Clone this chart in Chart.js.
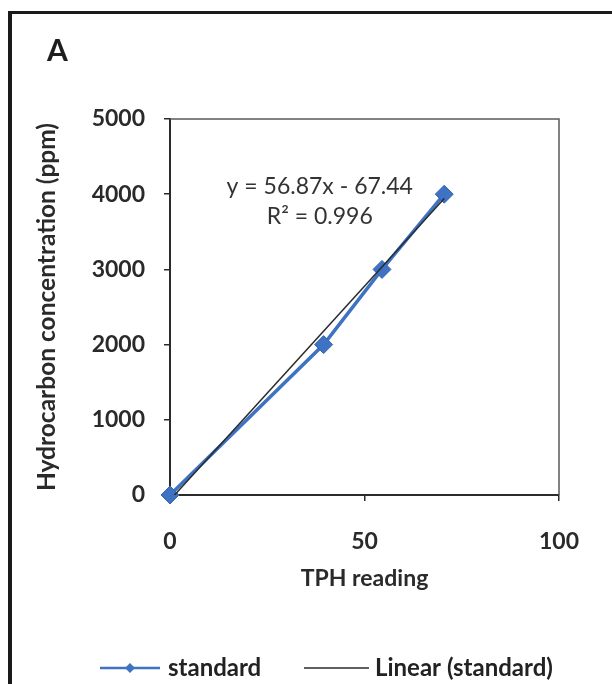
<!DOCTYPE html>
<html>
<head>
<meta charset="utf-8">
<title>TPH calibration</title>
<script src="https://cdn.jsdelivr.net/npm/chart.js@4.4.0/dist/chart.umd.min.js"></script>
<style>
    html, body { margin: 0; padding: 0; background: #fff; }
    #wrap { width: 612px; height: 684px; position: relative; }
</style>
</head>
<body>
<div id="wrap"><canvas id="chart" width="612" height="684"></canvas></div>
<script>
(function() {
    'use strict';

    // Data
    var tphReading = [0, 39.5, 54.5, 70.5];
    var concentration = [0, 2000, 3000, 4000];
    var trendX = [0, 70.5];
    var trendY = [-67, 3942];
    var xTicks = [0, 50, 100];
    var yTicks = [0, 1000, 2000, 3000, 4000, 5000];
    var seriesNames = ['standard', 'Linear (standard)'];
    var equationLines = ['y = 56.87x - 67.44', 'R\u00b2 = 0.996'];
    var panelLabel = 'A';

    var blue = '#3e72c2';
    var dark = '#2b2b2b';
    var fontFamily = 'Lato, "Open Sans", sans-serif';

    function toPoints(xs, ys) {
        return xs.map(function(x, i) { return { x: x, y: ys[i] }; });
    }

    function diamond(ctx, x, y, r) {
        ctx.beginPath();
        ctx.moveTo(x, y - r);
        ctx.lineTo(x + r, y);
        ctx.lineTo(x, y + r);
        ctx.lineTo(x - r, y);
        ctx.closePath();
        ctx.fill();
    }

    // Frame, panel letter, plot box, equation and legend
    var decorations = {
        id: 'decorations',
        beforeDatasetsDraw: function(chart) {
            var ctx = chart.ctx;
            var a = chart.chartArea;
            ctx.save();
            ctx.strokeStyle = '#5a5a5a';
            ctx.lineWidth = 1.5;
            ctx.beginPath();
            ctx.moveTo(a.left, a.top);
            ctx.lineTo(a.right, a.top);
            ctx.lineTo(a.right, a.bottom);
            ctx.stroke();
            ctx.restore();
        },
        afterDraw: function(chart) {
            var ctx = chart.ctx;
            var xs = chart.scales.x;
            var ys = chart.scales.y;
            ctx.save();

            // outer frame
            ctx.fillStyle = '#1a1a1a';
            ctx.fillRect(8, 11, 4, 684);
            ctx.fillRect(8, 11, 604, 3);

            // panel letter
            ctx.fillStyle = '#1e1e1e';
            ctx.font = 'bold 30px ' + fontFamily;
            ctx.textAlign = 'left';
            ctx.textBaseline = 'middle';
            ctx.fillText(panelLabel, 47, 51);

            // trendline equation
            ctx.fillStyle = '#333';
            ctx.font = '23px ' + fontFamily;
            ctx.textAlign = 'center';
            var ex = xs.getPixelForValue(38.5);
            var ey = ys.getPixelForValue(4100);
            ctx.fillText(equationLines[0], ex, ey);
            ctx.fillText(equationLines[1], ex, ey + 30);

            // legend
            var ly = 668;
            ctx.strokeStyle = blue;
            ctx.lineWidth = 2.5;
            ctx.beginPath();
            ctx.moveTo(100, ly);
            ctx.lineTo(160, ly);
            ctx.stroke();
            ctx.fillStyle = blue;
            diamond(ctx, 130, ly, 5);

            ctx.strokeStyle = dark;
            ctx.lineWidth = 1.5;
            ctx.beginPath();
            ctx.moveTo(304, ly);
            ctx.lineTo(369, ly);
            ctx.stroke();

            ctx.fillStyle = '#222';
            ctx.font = 'bold 24px ' + fontFamily;
            ctx.textAlign = 'left';
            ctx.fillText(seriesNames[0], 168, ly);
            ctx.fillText(seriesNames[1], 375, ly);
            ctx.restore();
        }
    };

    var tickFont = { family: fontFamily, size: 23, weight: 'bold' };
    var plainNumber = function(v) { return String(v); };

    new Chart(document.getElementById('chart'), {
        type: 'scatter',
        data: {
            datasets: [
                {
                    label: seriesNames[1],
                    data: toPoints(trendX, trendY),
                    showLine: true,
                    borderColor: dark,
                    borderWidth: 1.5,
                    pointRadius: 0,
                    order: 0
                },
                {
                    label: seriesNames[0],
                    data: toPoints(tphReading, concentration),
                    showLine: true,
                    clip: false,
                    borderColor: blue,
                    backgroundColor: blue,
                    borderWidth: 3.5,
                    pointStyle: 'rectRot',
                    pointRadius: 9,
                    pointBorderWidth: 1,
                    pointBorderColor: '#3566b0',
                    order: 1
                }
            ]
        },
        options: {
            responsive: false,
            animation: false,
            layout: { padding: { left: 0, top: 119, right: 53, bottom: 84 } },
            plugins: {
                legend: { display: false },
                tooltip: { enabled: false }
            },
            scales: {
                x: {
                    type: 'linear',
                    min: 0,
                    max: 100,
                    afterBuildTicks: function(s) { s.ticks = xTicks.map(function(v) { return { value: v }; }); },
                    afterFit: function(s) { s.height = 105; },
                    grid: { drawOnChartArea: false, drawTicks: true, tickLength: 6, color: dark, lineWidth: 1.5 },
                    border: { color: dark, width: 2 },
                    ticks: { color: '#2a2a2a', font: tickFont, padding: 27, maxRotation: 0, callback: plainNumber },
                    title: {
                        display: true,
                        text: 'TPH reading',
                        color: '#2a2a2a',
                        font: tickFont,
                        padding: { top: 0, bottom: 8 }
                    }
                },
                y: {
                    type: 'linear',
                    min: 0,
                    max: 5000,
                    afterBuildTicks: function(s) { s.ticks = yTicks.map(function(v) { return { value: v }; }); },
                    afterFit: function(s) { s.width = 170; },
                    grid: { drawOnChartArea: false, drawTicks: true, tickLength: 6, color: dark, lineWidth: 1.5 },
                    border: { color: dark, width: 2 },
                    ticks: { color: '#2a2a2a', font: tickFont, padding: 19, callback: plainNumber },
                    title: {
                        display: true,
                        text: 'Hydrocarbon concentration (ppm)',
                        color: '#2a2a2a',
                        font: { family: fontFamily, size: 24.5, weight: 'bold' },
                        padding: { top: 32, bottom: 0 }
                    }
                }
            }
        },
        plugins: [decorations]
    });
})();
</script>
</body>
</html>
